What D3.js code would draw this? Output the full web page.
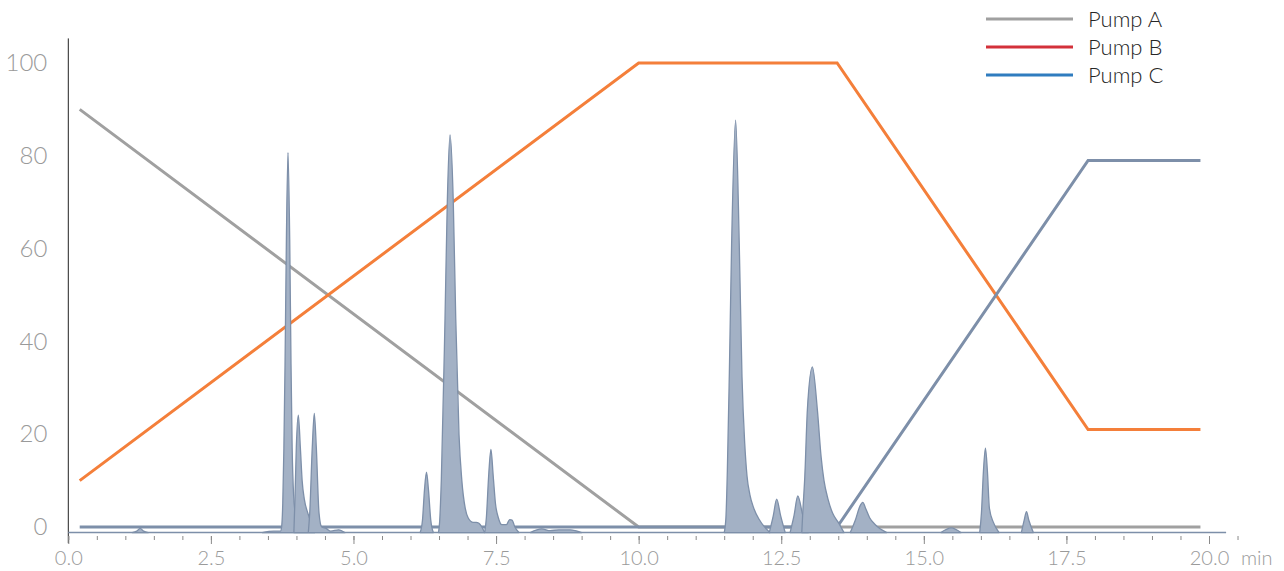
<!DOCTYPE html>
<html>
<head>
<meta charset="utf-8">
<script src="https://cdn.jsdelivr.net/npm/d3@7"></script>
<style>
  body { margin: 0; background: #fff; }
  svg { display: block; }
  .axis text { font-family: Lato, "Open Sans", sans-serif; font-weight: 300; fill: #9a9a9a; }
  .legend text { font-family: Lato, "Open Sans", sans-serif; font-weight: 300; fill: #262626; }
</style>
</head>
<body>
<div id="chart"></div>
<script>
// gradient programme (% of each pump over time, min)
var pumpNames = ["Pump A", "Pump B", "Pump C"];
var pumpLegendColors = ["#a0a0a0", "#d3313a", "#2f7cbf"];
var pumpLineColors = ["#a0a0a0", "#f47f3a", "#7d8fa9"];
var pumpA = [[0.2, 90], [10, 0], [19.85, 0]];
var pumpB = [[0.2, 10], [10, 100], [13.48, 100], [17.88, 21], [19.85, 21]];
var pumpC = [[0.2, 0], [13.48, 0], [17.88, 79], [19.85, 79]];

var baseLevel = -1.2;
var traceRange = [0, 20.3];
var peaks = [
  [[1.12, -1.2], [1.2, -0.9], [1.26, -0.3], [1.32, -0.9], [1.4, -1.2]],
  [[3.4, -1.2], [3.6, -0.9], [3.72, -0.9], [3.74, 0], [3.76, 5], [3.78, 17], [3.8, 35], [3.824, 62], [3.852, 80.7], [3.882, 62], [3.905, 35], [3.925, 17], [3.95, 7], [3.99, 2], [4.05, 0], [4.2, -1.2]],
  [[3.955, -1.2], [3.975, 6.5], [3.998, 17.3], [4.033, 24.1], [4.068, 17.3], [4.1, 10], [4.138, 6], [4.2, 3], [4.27, 0.5], [4.32, -1.2]],
  [[4.208, -1.2], [4.233, 3], [4.278, 17.3], [4.313, 24.5], [4.348, 17.3], [4.396, 3], [4.443, 0], [4.52, -0.3], [4.6, -0.9], [4.74, -0.6], [4.85, -1.2]],
  [[6.17, -1.2], [6.21, 1.5], [6.245, 8], [6.28, 11.8], [6.315, 8], [6.355, 1.5], [6.4, -1.2]],
  [[6.49, -1.2], [6.51, 1], [6.54, 10], [6.605, 45], [6.645, 70], [6.693, 84.5], [6.75, 70], [6.793, 45], [6.85, 20], [6.9, 10], [6.96, 4], [7.01, 2], [7.1, 1], [7.15, 1], [7.2, 0.8], [7.25, 0], [7.3, -1.2]],
  [[7.3, -1.2], [7.33, 2], [7.37, 11], [7.41, 16.7], [7.45, 11], [7.49, 5], [7.54, 2], [7.6, 0.5], [7.68, 0.5], [7.74, 1.6], [7.78, 1.5], [7.83, 0], [7.9, -1.2]],
  [[8.1, -1.2], [8.3, -0.4], [8.45, -0.8], [8.6, -0.6], [8.8, -0.6], [9.0, -1.2]],
  [[11.5, -1.2], [11.53, 2], [11.555, 12], [11.59, 33], [11.63, 61], [11.7, 87.7], [11.764, 61], [11.812, 32.4], [11.86, 18], [11.9, 11], [11.95, 7], [12.02, 4], [12.12, 1.5], [12.3, -1.2]],
  [[12.29, -1.2], [12.36, 2.4], [12.42, 6], [12.49, 2.4], [12.57, -1.2]],
  [[12.655, -1.2], [12.725, 2.5], [12.79, 6.7], [12.878, 2.5], [12.975, -1.2]],
  [[12.86, -1.2], [12.88, 3.7], [12.913, 10.8], [12.958, 25.2], [13.046, 34.5], [13.134, 25.2], [13.2, 15], [13.25, 10], [13.32, 6], [13.4, 3], [13.5, 1], [13.6, -1.2]],
  [[13.71, -1.2], [13.8, 1.5], [13.88, 4.5], [13.93, 5.3], [13.98, 4], [14.05, 2], [14.15, 0.5], [14.35, -1.2]],
  [[15.3, -1.2], [15.48, -0.2], [15.65, -1.2]],
  [[15.98, -1.2], [16.01, 3], [16.045, 12], [16.08, 17], [16.115, 12], [16.15, 4], [16.22, 1], [16.32, -1.2]],
  [[16.71, -1.2], [16.76, 1.5], [16.8, 3.3], [16.84, 1.5], [16.92, -1.2]]
];

var yTicks = [0, 20, 40, 60, 80, 100];
var xMajorTicks = [0, 2.5, 5, 7.5, 10, 12.5, 15, 17.5, 20];
var xMinorTicks = d3.range(0, 20.51, 0.5);
var xUnit = "min";

var width = 1284, height = 571;

var svg = d3.select("#chart").append("svg")
    .attr("width", width)
    .attr("height", height);

var x = d3.scaleLinear().domain([0, 20]).range([68.3, 1209]);
var y = d3.scaleLinear().domain([0, 100]).range([527, 63]);

// y axis: plain line plus labels
svg.append("line")
    .attr("x1", x(0)).attr("x2", x(0))
    .attr("y1", y(105.3)).attr("y2", y(-3.5))
    .attr("stroke", "#222")
    .attr("stroke-width", 1);

var yAxis = svg.append("g")
    .attr("class", "axis")
    .attr("transform", "translate(" + x(0) + ",0)")
    .call(d3.axisLeft(y).tickValues(yTicks).tickSize(0).tickPadding(21).tickFormat(d3.format("d")));
yAxis.select(".domain").remove();
yAxis.selectAll("text").style("font-size", "24px");

// x axis: minor + major ticks, no domain line
var xAxisY = 536;
var xMinor = svg.append("g")
    .attr("class", "axis")
    .attr("transform", "translate(0," + xAxisY + ")")
    .call(d3.axisBottom(x).tickValues(xMinorTicks).tickSize(4).tickFormat(""));
xMinor.select(".domain").remove();
xMinor.selectAll("line").attr("stroke", "#8a8a8a");

var xMajor = svg.append("g")
    .attr("class", "axis")
    .attr("transform", "translate(0," + xAxisY + ")")
    .call(d3.axisBottom(x).tickValues(xMajorTicks).tickSize(8).tickPadding(7).tickFormat(d3.format(".1f")));
xMajor.select(".domain").remove();
xMajor.selectAll("line").attr("stroke", "#8a8a8a");
xMajor.selectAll("text").style("font-size", "20px");

svg.append("text")
    .attr("class", "axis")
    .attr("x", x(20) + 32)
    .attr("y", xAxisY + 29)
    .style("font-family", "Lato, 'Open Sans', sans-serif")
    .style("font-weight", 300)
    .style("font-size", "20px")
    .attr("fill", "#9a9a9a")
    .text(xUnit);

// pump gradient lines
var pumpLine = d3.line()
    .x(d => x(d[0]))
    .y(d => y(d[1]));

[pumpA, pumpB, pumpC].forEach((p, i) => {
    svg.append("path")
        .datum(p)
        .attr("d", pumpLine)
        .attr("fill", "none")
        .attr("stroke", pumpLineColors[i])
        .attr("stroke-width", 3)
        .attr("stroke-linejoin", "miter");
});

// chromatogram baseline
svg.append("line")
    .attr("x1", x(traceRange[0])).attr("x2", x(traceRange[1]))
    .attr("y1", y(baseLevel)).attr("y2", y(baseLevel))
    .attr("stroke", "#7d8fa9")
    .attr("stroke-width", 1.5);

// each peak as its own filled shape
var peakArea = d3.area()
    .x(d => x(d[0]))
    .y0(y(baseLevel))
    .y1(d => y(d[1]))
    .curve(d3.curveMonotoneX);

svg.append("g")
    .selectAll("path")
    .data(peaks)
    .join("path")
    .attr("d", peakArea)
    .attr("fill", "#a3b1c5")
    .attr("stroke", "#7d8fa9")
    .attr("stroke-width", 1.3)
    .attr("stroke-linejoin", "round");

// legend
var legend = svg.append("g").attr("class", "legend");
pumpNames.forEach((name, i) => {
    var ly = 19 + i * 28;
    legend.append("line")
        .attr("x1", 986).attr("x2", 1073)
        .attr("y1", ly).attr("y2", ly)
        .attr("stroke", pumpLegendColors[i])
        .attr("stroke-width", 3);
    legend.append("text")
        .attr("x", 1088)
        .attr("y", ly + 8)
        .style("font-size", "22px")
        .text(name);
});
</script>
</body>
</html>
